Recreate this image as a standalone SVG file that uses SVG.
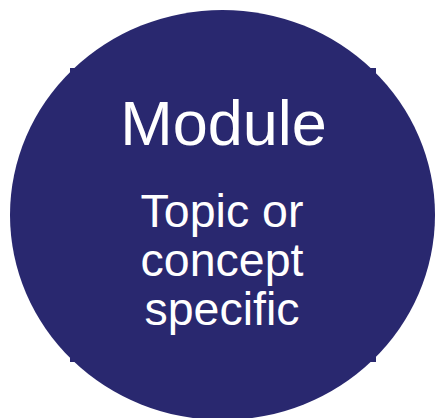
<svg xmlns="http://www.w3.org/2000/svg" width="435" height="418" viewBox="0 0 435 418">
  <style>
    .shape { fill: #29286f; }
    .title { font-family: "Liberation Sans", Arial, sans-serif; font-size: 63px; fill: #ffffff; text-anchor: middle; }
    .sub { font-family: "Liberation Sans", Arial, sans-serif; font-size: 46.5px; fill: #ffffff; text-anchor: middle; }
  </style>
  <rect width="435" height="418" fill="#ffffff"/>
  <g id="module">
    <!-- bounding frame sits behind the disc; only its corners show -->
    <rect class="shape" x="70" y="68" width="306" height="294"/>
    <ellipse class="shape" cx="222.5" cy="215" rx="212.5" ry="205"/>
    <text class="title" x="223.5" y="145">Module</text>
    <text class="sub" x="222" y="227">Topic or</text>
    <text class="sub" x="222" y="276">concept</text>
    <text class="sub" x="222" y="325">specific</text>
  </g>
</svg>
